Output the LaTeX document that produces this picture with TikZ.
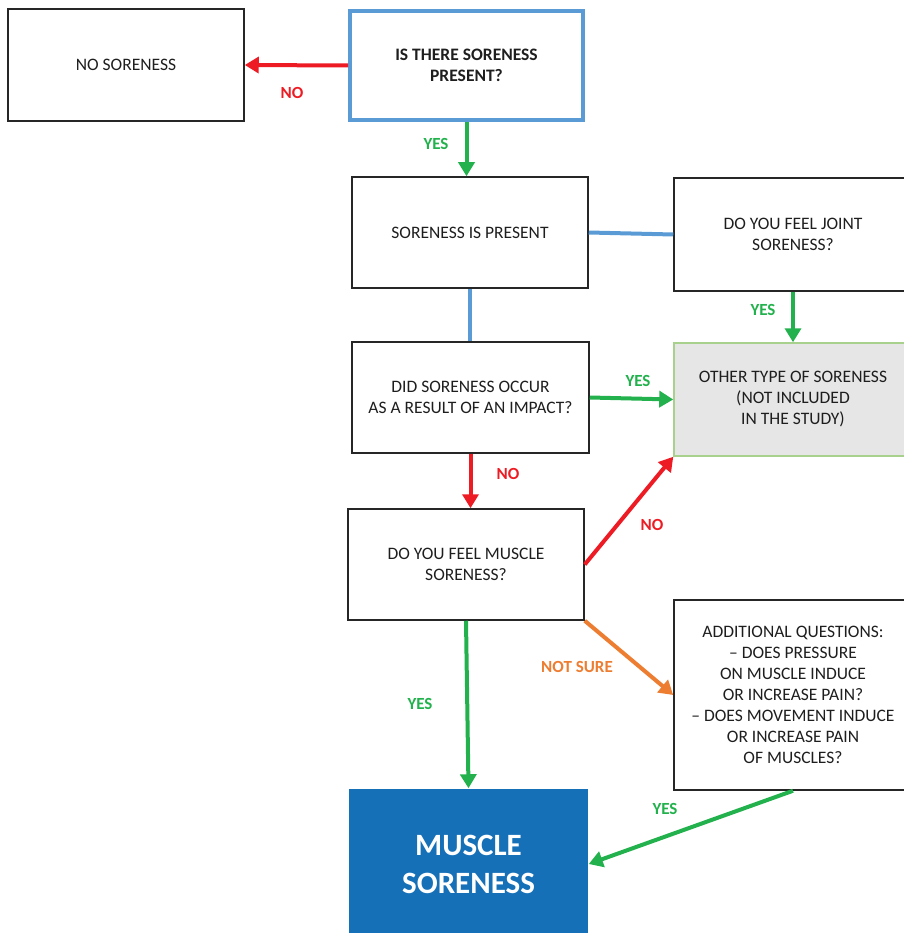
\documentclass[tikz,border=0pt]{standalone}
\usepackage{fontspec}
\setmainfont{Carlito}
\usetikzlibrary{arrows.meta}
\definecolor{qblue}{HTML}{5B9BD5}
\definecolor{cred}{HTML}{ED1C24}
\definecolor{cgreen}{HTML}{22B14C}
\definecolor{corange}{HTML}{ED7D31}
\definecolor{resblue}{HTML}{1570B8}
\definecolor{othfill}{HTML}{E7E6E6}
\definecolor{othline}{HTML}{A9D18E}
\definecolor{boxline}{HTML}{262626}
\definecolor{textc}{HTML}{1E1E1E}
\begin{document}
\begin{tikzpicture}[x=1pt,y=-1pt,
  box/.style={draw=boxline, line width=1.5pt, align=center, inner sep=0pt,
    font=\fontsize{17.5}{21}\selectfont, text=textc},
  arr/.style={line width=4pt, -{Triangle[length=14pt,width=16pt]}},
  link/.style={line width=4pt, draw=qblue},
  lbl/.style={font=\bfseries\fontsize{17}{21}\selectfont, inner sep=0pt}]
\useasboundingbox (0,0) rectangle (903,933);
\node[box, minimum width=236, minimum height=112] (nosore) at (126,65) {NO SORENESS};
\node[box, draw=qblue, line width=4pt, minimum width=233, minimum height=109, font=\bfseries\fontsize{17.5}{21}\selectfont] (q1) at (466.5,65.5) {IS THERE SORENESS\\PRESENT?};
\node[box, minimum width=236, minimum height=111] (present) at (470,232.5) {SORENESS IS PRESENT};
\node[box, minimum width=238, minimum height=113] (joint) at (793,234.5) {DO YOU FEEL JOINT\\SORENESS?};
\node[box, minimum width=237, minimum height=111] (impact) at (470.5,397.5) {DID SORENESS OCCUR\\AS A RESULT OF AN IMPACT?};
\node[box, draw=othline, fill=othfill, minimum width=238, minimum height=113] (other) at (793,399.5) {OTHER TYPE OF SORENESS\\(NOT INCLUDED\\IN THE STUDY)};
\node[box, minimum width=236, minimum height=111] (muscleq) at (466,564.5) {DO YOU FEEL MUSCLE\\SORENESS?};
\node[box, minimum width=238, minimum height=190] (additional) at (793,695) {ADDITIONAL QUESTIONS:\\\textendash{} DOES PRESSURE\\ON MUSCLE INDUCE\\OR INCREASE PAIN?\\\textendash{} DOES MOVEMENT INDUCE\\OR INCREASE PAIN\\OF MUSCLES?};
\node[box, draw=none, fill=resblue, text=white, minimum width=239, minimum height=150, font=\bfseries\fontsize{31}{38}\selectfont] (result) at (468.5,864) {MUSCLE\\SORENESS};

\draw[arr, color=cred] (q1.west) -- (nosore.east);
\draw[arr, color=cgreen] (q1.south) -- (q1.south |- present.north);
\draw[link] (present.east) -- (joint.west);
\draw[link] (present.south) -- (present.south |- impact.north);
\draw[arr, color=cgreen] (joint.south) -- (other.north);
\draw[arr, color=cgreen] (impact.east) -- (other.west);
\draw[arr, color=cred] (impact.south) -- (impact.south |- muscleq.north);
\draw[arr, color=cred] (muscleq.east) -- (other.south west);
\draw[arr, color=cgreen] (muscleq.south) -- (result.north);
\draw[arr, color=corange] (muscleq.south east) -- (additional.west);
\draw[arr, color=cgreen] (additional.south) -- (result.east);

\node[lbl, text=cred] (l1) at (292,93) {NO};
\node[lbl, text=cgreen] (l2) at (436,144) {YES};
\node[lbl, text=cgreen] (l3) at (763,310) {YES};
\node[lbl, text=cgreen] (l4) at (638,381) {YES};
\node[lbl, text=cred] (l5) at (508,474) {NO};
\node[lbl, text=cred] (l6) at (652,525) {NO};
\node[lbl, text=corange] (l7) at (577,667) {NOT SURE};
\node[lbl, text=cgreen] (l8) at (420,704) {YES};
\node[lbl, text=cgreen] (l9) at (665,809) {YES};
\end{tikzpicture}
\end{document}
